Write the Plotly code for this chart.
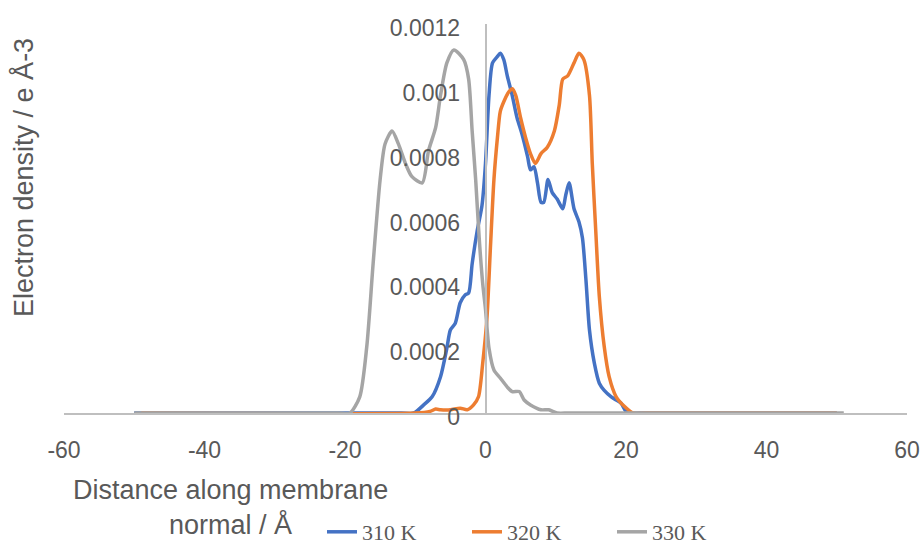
import plotly.graph_objects as go

# ---- data ----
x_310 = [-50, -12, -10.2, -8.8, -7.6, -6.4, -5.5, -5.0, -4.3, -3.6, -2.9, -2.4, -1.9, -1.2, -0.5, 0.0,
         0.5, 1.0, 1.7, 2.1, 2.6, 3.1, 3.8, 4.5, 5.2, 6.0, 6.4, 6.9, 7.4, 7.9, 8.3, 8.9, 9.5,
         10.2, 11.0, 11.4, 11.9, 12.6, 13.3, 13.8, 14.3, 14.8, 15.5, 16.2, 16.9, 17.9, 18.6,
         19.3, 20.2, 22, 50]
y_310 = [0, 0, 0, 0.000025, 0.00005, 0.000112, 0.0002, 0.000256, 0.000277, 0.00034, 0.000364,
         0.00037, 0.00046, 0.00056, 0.00064, 0.00077, 0.00098, 0.00108, 0.0011, 0.00111,
         0.00109, 0.00104, 0.00098, 0.00091, 0.00086, 0.00079, 0.00075, 0.00076, 0.00071,
         0.00065, 0.00065, 0.00072, 0.00068, 0.00066, 0.00063, 0.00067, 0.00071, 0.00063,
         0.00059, 0.00054, 0.00041, 0.000256, 0.000153, 0.000092, 0.00007, 0.00005, 0.00004,
         0.00003, 0, 0, 0]

x_320 = [-49, -10, -7.9, -7.1, -6.4, -5.0, -3.6, -2.6, -1.7, -1.0, -0.4, 0.2, 0.7, 1.2, 1.7, 2.1,
         2.6, 3.3, 3.8, 4.3, 5.0, 5.7, 6.4, 7.1, 7.9, 8.8, 9.8, 10.5, 11.0, 11.7, 12.6, 13.3,
         14.0, 14.8, 15.2, 15.7, 16.2, 16.9, 17.6, 18.6, 19.8, 21.0, 23, 50]
y_320 = [0, 0, 0.000005, 0.000012, 0.00001, 0.00001, 0.000015, 0.00001, 0.000025, 0.00005,
         0.000153, 0.00029, 0.00051, 0.00072, 0.00085, 0.00093, 0.00096, 0.00099, 0.001,
         0.00098, 0.00091, 0.00085, 0.0008, 0.00077, 0.0008, 0.00082, 0.00087, 0.00095,
         0.00103, 0.00104, 0.00108, 0.00111, 0.00109, 0.00098, 0.00077, 0.00056, 0.00036,
         0.000205, 0.000112, 0.00005, 0.00002, 0, 0, 0]

x_330 = [-50, -21, -19.3, -17.9, -16.9, -16.0, -15.0, -14.3, -13.3, -12.4, -11.4, -10.5, -9.0,
         -8.1, -7.1, -6.4, -5.5, -4.5, -3.1, -2.4, -1.9, -1.4, -0.9, -0.4, 0.0, 0.5, 1.2,
         2.1, 3.1, 3.8, 4.8, 5.5, 6.4, 7.9, 9.0, 10.2, 12, 51]
y_330 = [0, 0, 0, 0.00005, 0.000205, 0.00046, 0.00072, 0.00083, 0.00087, 0.00083, 0.00077,
         0.00073, 0.00071, 0.00081, 0.00088, 0.00098, 0.00108, 0.00112, 0.00109, 0.00103,
         0.00087, 0.00072, 0.00054, 0.0004, 0.00032, 0.0002, 0.000133, 0.000108, 0.00008,
         0.000066, 0.000066, 0.00004, 0.000025, 0.00001, 0.00001, 0, 0, 0]

series_names = ["310 K", "320 K", "330 K"]
series_colors = ["#4472C4", "#ED7D31", "#A5A5A5"]

x_ticks = [-60, -40, -20, 0, 20, 40, 60]
x_tick_text = ["-60", "-40", "-20", "0", "20", "40", "60"]
y_ticks = [0, 0.0002, 0.0004, 0.0006, 0.0008, 0.001, 0.0012]
y_tick_text = ["0", "0.0002", "0.0004", "0.0006", "0.0008", "0.001", "0.0012"]

x_title = "Distance along membrane<br>normal / Å"
y_title = "Electron density / e Å-3"

# ---- figure ----
W, H = 922, 547
ML, MR, MT, MB = 64, 15, 24, 134
PW, PH = W - ML - MR, H - MT - MB
TXT = "#595959"
AX = "#BFBFBF"

fig = go.Figure()
for xs, ys, name, col in zip([x_310, x_320, x_330], [y_310, y_320, y_330],
                             series_names, series_colors):
    fig.add_trace(go.Scatter(x=xs, y=ys, name=name, mode="lines",
                             line=dict(color=col, width=3.5, shape="spline", smoothing=0.7)))

fig.update_layout(
    width=W, height=H,
    margin=dict(l=ML, r=MR, t=MT, b=MB, autoexpand=False),
    paper_bgcolor="white", plot_bgcolor="white",
    font=dict(family="Liberation Sans, Arial", color=TXT, size=23),
    xaxis=dict(range=[-60, 60], tickvals=x_ticks, ticktext=x_tick_text, showgrid=False,
               zeroline=False, showline=True, linecolor=AX, linewidth=1.5, ticks="",
               tickfont=dict(size=23, color=TXT), ticklabelstandoff=16, automargin=False),
    yaxis=dict(range=[0, 0.0012], tickvals=y_ticks, ticktext=y_tick_text,
               showgrid=False, zeroline=False, showline=True, linecolor=AX, linewidth=1.5,
               anchor="free", position=0.5, ticks="",
               tickfont=dict(size=23, color=TXT), ticklabelstandoff=20,
               ticklabelshift=4, automargin=False),
    legend=dict(orientation="h", x=(322 - ML) / PW, xanchor="left",
                y=(H - MB - 532) / PH, yanchor="middle",
                font=dict(family="Liberation Serif, Times New Roman", size=22, color=TXT),
                entrywidth=100, entrywidthmode="pixels", bgcolor="rgba(0,0,0,0)",
                tracegroupgap=0, itemwidth=30),
    showlegend=True,
)

fig.add_annotation(text=y_title, xref="paper", yref="paper",
                   x=(23 - ML) / PW, y=(H - MB - 178) / PH,
                   xanchor="center", yanchor="middle", textangle=-90, showarrow=False,
                   font=dict(size=27, color=TXT))
fig.add_annotation(text=x_title, xref="paper", yref="paper",
                   x=(230 - ML) / PW, y=(H - MB - 507) / PH,
                   xanchor="center", yanchor="middle", align="center", showarrow=False,
                   font=dict(size=27, color=TXT))

fig.write_html("out.html")
